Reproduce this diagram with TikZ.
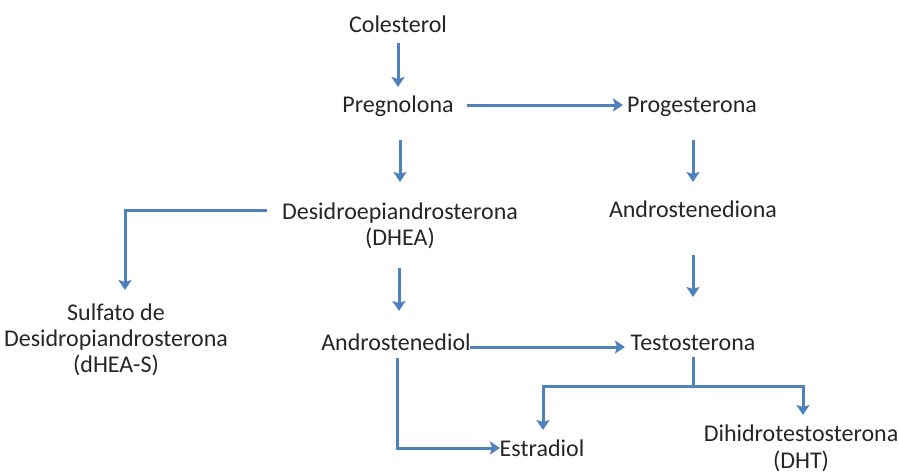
\documentclass[tikz,border=0pt]{standalone}
\usepackage{fontspec}
\setmainfont{Carlito}
\usetikzlibrary{arrows.meta}
\definecolor{arrowblue}{HTML}{4F81BD}
\begin{document}
\begin{tikzpicture}[x=1pt,y=-1pt,
  lbl/.style={font=\fontsize{24}{26}\selectfont, text=black!85, inner sep=0pt, align=center},
  one/.style={lbl, text height=21.5pt, text depth=6pt},
  conn/.style={draw=arrowblue, line width=3pt},
  arr/.style={conn, -{Stealth[length=10pt,width=13pt,inset=2pt]}}]
\useasboundingbox (0,0) rectangle (899,474);
\fill[white] (0,0) rectangle (899,474);
\node[one] (col) at (398,25) {Colesterol};
\node[one] (pre) at (398,105) {Pregnolona};
\node[one] (pro) at (692,105) {Progesterona};
\node[lbl] (dhea) at (400,226) {Desidroepiandrosterona\\(DHEA)};
\node[one] (and) at (693,210) {Androstenediona};
\node[lbl] (sul) at (116,340) {Sulfato de\\Desidropiandrosterona\\(dHEA-S)};
\node[one] (adiol) at (396,343) {Androstenediol};
\node[one] (tes) at (693,343) {Testosterona};
\node[one] (est) at (542,449) {Estradiol};
\node[lbl, font=\fontsize{24}{27}\selectfont] (dht) at (801,448) {Dihidrotestosterona\\(DHT)};
% connector end points
\coordinate (a1s) at (398,43); \coordinate (a1e) at (398,87);
\coordinate (a2s) at (467,105); \coordinate (a2e) at (623,105);
\coordinate (a3s) at (400,140); \coordinate (a3e) at (400,182);
\coordinate (a4s) at (693,140); \coordinate (a4e) at (693,182);
\coordinate (a5s) at (267,210); \coordinate (a5c) at (125,210); \coordinate (a5e) at (125,290);
\coordinate (a6s) at (399,268); \coordinate (a6e) at (399,311);
\coordinate (a7s) at (693,255); \coordinate (a7e) at (693,297);
\coordinate (a8s) at (470,347); \coordinate (a8e) at (625,347);
\coordinate (a9s) at (397,358); \coordinate (a9c) at (397,448); \coordinate (a9e) at (500,448);
\coordinate (t1) at (693,357); \coordinate (t2) at (693,386);
\coordinate (bl) at (543,386); \coordinate (ble) at (543,430);
\coordinate (br) at (803,386); \coordinate (bre) at (803,415);
\draw[arr] (a1s) -- (a1e);
\draw[arr] (a2s) -- (a2e);
\draw[arr] (a3s) -- (a3e);
\draw[arr] (a4s) -- (a4e);
\draw[arr] (a5s) -- (a5c) -- (a5e);
\draw[arr] (a6s) -- (a6e);
\draw[arr] (a7s) -- (a7e);
\draw[arr] (a8s) -- (a8e);
\draw[arr] (a9s) -- (a9c) -- (a9e);
\draw[conn] (t1) -- (t2);
\draw[arr] (t2) -- (bl) -- (ble);
\draw[arr] (t2) -- (br) -- (bre);
\end{tikzpicture}
\end{document}
